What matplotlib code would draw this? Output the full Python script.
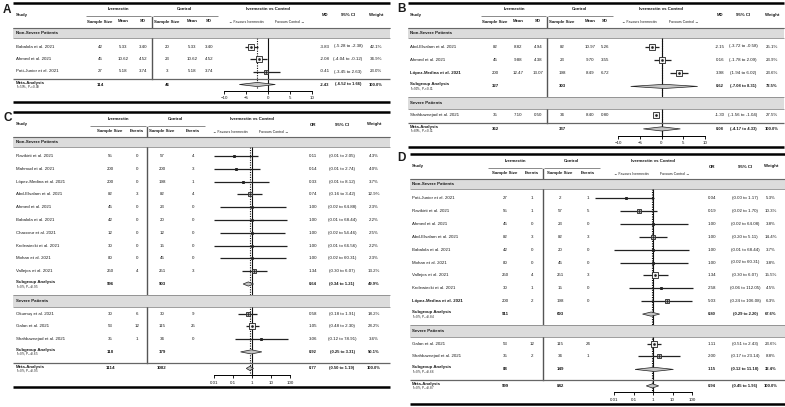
import matplotlib.pyplot as plt
from matplotlib.patches import Rectangle, Polygon

plt.rcParams['font.family'] = ['Liberation Sans', 'DejaVu Sans']
plt.rcParams['mathtext.fontset'] = 'custom'
plt.rcParams['mathtext.rm'] = 'Liberation Sans'
plt.rcParams['mathtext.it'] = 'Liberation Sans:italic'

NS = "Non-Severe Patients"
SV = "Severe Patients"

# ---------------- Panel A: mean difference ----------------
a_study = ["Babalola et al. 2021", "Ahmed et al. 2021", "Pott-Junior et al. 2021"]
a_group = [NS, NS, NS]
a_iv_n = [42, 45, 27]
a_iv_mean = [5.33, 10.62, 5.18]
a_iv_sd = [3.40, 4.52, 3.74]
a_ct_n = [20, 23, 3]
a_ct_mean = [5.33, 10.62, 5.18]
a_ct_sd = [3.40, 4.52, 3.74]
a_est = [-3.83, -2.08, -0.41]
a_lo = [-5.28, -4.04, -3.45]
a_hi = [-2.38, -0.12, 2.63]
a_w = [42.1, 34.9, 23.0]
a_meta = [-2.43, -6.52, 1.66, 100.0, 114, 46]
a_meta_het = "I²=59%, P$_H$=0.09"

# ---------------- Panel B: mean difference ----------------
b_study = ["Abd-Elsalam et al. 2021", "Ahmed et al. 2021", "López-Medina et al. 2021",
           "Shahbaznejad et al. 2021"]
b_group = [NS, NS, NS, SV]
b_iv_n = [82, 45, 200, 35]
b_iv_mean = [8.82, 9.88, 12.47, 7.10]
b_iv_sd = [4.94, 4.38, 13.07, 0.50]
b_ct_n = [82, 23, 198, 34]
b_ct_mean = [10.97, 9.70, 8.49, 8.40]
b_ct_sd = [5.26, 3.55, 6.72, 0.80]
b_est = [-2.15, 0.16, 3.98, -1.30]
b_lo = [-3.72, -1.78, 1.94, -1.56]
b_hi = [-0.58, 2.09, 6.02, -1.04]
b_w = [25.1, 23.9, 23.6, 27.5]
b_sub = {NS: [0.62, -7.08, 8.31, 72.5, 327, 303, "I²=91%, P$_H$<0.01"]}
b_meta = [0.08, -4.17, 4.33, 100.0, 362, 337]
b_meta_het = "I²=89%, P$_H$<0.01"

# ---------------- Panel C: odds ratio ----------------
c_study = ["Ravikirti et al. 2021", "Mahmud et al. 2021", "López-Medina et al. 2021",
           "Abd-Elsalam et al. 2021", "Ahmed et al. 2021", "Babalola et al. 2021",
           "Chaccour et al. 2021", "Krolewiecki et al. 2021", "Mohan et al. 2021",
           "Vallejos et al. 2021", "Okumuş et al. 2021", "Galan et al. 2021",
           "Shahbaznejad et al. 2021"]
c_group = [NS] * 10 + [SV] * 3
c_iv_n = [55, 200, 200, 82, 45, 42, 12, 30, 80, 250, 30, 53, 35]
c_iv_ev = [0, 0, 0, 3, 0, 0, 0, 0, 0, 4, 6, 12, 1]
c_ct_n = [57, 200, 198, 82, 23, 20, 12, 15, 45, 251, 30, 115, 34]
c_ct_ev = [4, 3, 1, 4, 0, 0, 0, 0, 0, 3, 9, 25, 0]
c_est = [0.11, 0.14, 0.33, 0.74, 1.00, 1.00, 1.00, 1.00, 1.00, 1.34, 0.58, 1.05, 3.06]
c_lo = [0.01, 0.01, 0.01, 0.16, 0.02, 0.01, 0.02, 0.01, 0.02, 0.30, 0.18, 0.48, 0.12]
c_hi = [2.05, 2.74, 8.12, 3.42, 64.88, 68.44, 54.46, 66.56, 60.31, 6.07, 1.91, 2.30, 78.91]
c_w = [4.3, 4.0, 3.7, 12.9, 2.3, 2.2, 2.5, 2.2, 2.3, 13.2, 18.2, 28.2, 3.6]
c_sub = {NS: [0.64, 0.34, 1.21, 49.9, 996, 903, "I²=0%, P$_H$=0.95"],
         SV: [0.92, 0.25, 3.31, 50.1, 118, 179, "I²=0%, P$_H$=0.65"]}
c_meta = [0.77, 0.50, 1.19, 100.0, 1114, 1082]
c_meta_het = "I²=0%, P$_H$=0.95"

# ---------------- Panel D: odds ratio ----------------
d_study = ["Pott-Junior et al. 2021", "Ravikirti et al. 2021", "Ahmed et al. 2021",
           "Abd-Elsalam et al. 2021", "Babalola et al. 2021", "Mohan et al. 2021",
           "Vallejos et al. 2021", "Krolewiecki et al. 2021", "López-Medina et al. 2021",
           "Galan et al. 2021", "Shahbaznejad et al. 2021"]
d_group = [NS] * 9 + [SV] * 2
d_iv_n = [27, 55, 45, 82, 42, 80, 250, 30, 200, 53, 35]
d_iv_ev = [1, 1, 0, 3, 0, 0, 4, 1, 2, 12, 2]
d_ct_n = [2, 57, 23, 82, 20, 45, 251, 15, 198, 115, 34]
d_ct_ev = [1, 5, 0, 3, 0, 0, 3, 0, 0, 24, 1]
d_est = [0.04, 0.19, 1.00, 1.00, 1.00, 1.00, 1.34, 2.58, 5.03, 1.11, 2.00]
d_lo = [0.001, 0.02, 0.02, 0.20, 0.01, 0.02, 0.30, 0.06, 0.24, 0.51, 0.17]
d_hi = [1.17, 1.70, 64.08, 5.11, 68.44, 60.31, 6.07, 112.05, 106.08, 2.43, 23.14]
d_w = [5.3, 10.3, 3.8, 14.4, 3.7, 3.8, 15.5, 4.5, 6.3, 23.6, 8.8]
d_sub = {NS: [0.80, 0.29, 2.20, 67.6, 911, 693, "I²=0%, P$_H$=0.84"],
         SV: [1.15, 0.12, 11.18, 32.4, 88, 149, "I²=0%, P$_H$=0.66"]}
d_meta = [0.94, 0.45, 1.96, 100.0, 999, 842]
d_meta_het = "I²=0%, P$_H$=0.87"

W, H = 785, 407
fig = plt.figure(figsize=(W / 100, H / 100), dpi=100)
bg = fig.add_axes([0, 0, 1, 1])
bg.set_xlim(0, W)
bg.set_ylim(H, 0)
bg.axis('off')
bg.set_zorder(5)
bg.patch.set_visible(False)

FS = 3.2      # body text
FSB = 3.2     # headers
FSBS = 2.95   # bold summary statistics
FSS = 2.2     # heterogeneity line
TXT = '#1a1a1a'
LN = '#222222'


def t(x, y, s, ha='center', fs=FS, bold=False, **kw):
    bg.text(x, y, s, ha=ha, va='center', fontsize=fs, color=TXT, zorder=8,
            fontweight='bold' if bold else 'normal', **kw)


def hline(x0, x1, y, lw=0.7, c='#555555', z=2):
    bg.plot([x0, x1], [y, y], color=c, lw=lw, solid_capstyle='butt', zorder=z)


def draw_panel(letter, L, study, group, cells, est, lo, hi, w, subs, meta, meta_het,
               is_or, bold_names=()):
    T = L['T']
    left, right = L['left'], L['right']
    fmt = (lambda v: f"{v:.2f}")
    ivx, ctx = L['iv_x'], L['ct_x']
    sx = L['stat_x']
    sub_cols = (["Sample Size", "Events"] if is_or else ["Sample Size", "Mean", "SD"])

    # header
    t(L['label_xy'][0], L['label_xy'][1], letter, ha='left', fs=8.5, bold=True)
    hline(left, right, T, lw=1.8, c='black')
    t(L['study_x'], T + 12.5, "Study", ha='left', fs=FSB, bold=True)
    t(sum(L['iv_span']) / 2, T + 7, "Ivermectin", fs=FSB, bold=True)
    t(sum(L['ct_span']) / 2, T + 7, "Control", fs=FSB, bold=True)
    hline(L['iv_span'][0], L['iv_span'][1] - 1, T + 13.5, lw=0.6, c='#777777')
    hline(L['ct_span'][0] + 1, L['ct_span'][1], T + 13.5, lw=0.6, c='#777777')
    for x, s in zip(ivx, sub_cols):
        t(x, T + 19, s, fs=FSB, bold=True)
    for x, s in zip(ctx, sub_cols):
        t(x, T + 19, s, fs=FSB, bold=True)
    fmid = sum(L['fx']) / 2
    t(fmid, T + 7, "Ivermectin vs Control", fs=FSB, bold=True)
    t(fmid - 22, T + 19.5, "← Favours Ivermectin", fs=2.5)
    t(fmid + 22, T + 19.5, "Favours Control →", fs=2.5)
    for x, s in zip(sx, ["OR" if is_or else "MD", "95% CI", "Weight"]):
        t(x, T + 12.5, s, fs=FSB, bold=True)
    hline(left, right, T + 25, lw=0.8, c='#444444', z=7)

    # forest axes, sharing pixel y coordinates with the background
    fx0, fx1 = L['fx']
    ax = fig.add_axes([fx0 / W, 0, (fx1 - fx0) / W, 1])
    ax.set_ylim(H, 0)
    if is_or:
        ax.set_xscale('log')
    ax.set_xlim(L['ticks'][0], L['ticks'][-1])
    ax.patch.set_visible(False)
    for s in ['top', 'left', 'right']:
        ax.spines[s].set_visible(False)
    ax.set_yticks([])
    ax.set_xticks(L['ticks'])
    ax.set_xticklabels([f"{v:g}".replace('-', '−') for v in L['ticks']])
    ax.minorticks_off()
    ax.tick_params(axis='x', labelsize=3.2, length=2.5, width=0.7, pad=1.2,
                   colors=TXT)
    ax.spines['bottom'].set_linewidth(0.7)

    def box(x, y, wt):
        side = L['k'] * wt ** 0.5 * 0.72
        ax.plot([x], [y], marker='s', ms=side, mfc='#f2f2f2', mec='#222222',
                mew=0.6, clip_on=False, zorder=4)
        ax.plot([x], [y], marker='o', ms=0.9, color='#222222', clip_on=False, zorder=5)

    def diamond(e, l, h, y):
        ax.add_patch(Polygon([(l, y), (e, y - 2.1), (h, y), (e, y + 2.1)], closed=True,
                             fc='#c4c4c4', ec='#222222', lw=0.5, clip_on=False, zorder=4))

    def ci(l, h, y):
        ax.plot([l, h], [y, y], color=LN, lw=0.9, clip_on=False, zorder=3,
                solid_capstyle='butt')

    def stat_cells(y, e, l, h, wt, bold):
        fs = FSBS if bold else FS
        t(sx[0], y, fmt(e), bold=bold, fs=fs)
        t(sx[1], y, f"({fmt(l)} to {fmt(h)})", bold=bold, fs=fs)
        t(sx[2], y, f"{wt:.1f}%", bold=bold, fs=fs)

    def summary_row(y, label, vals, het):
        e, l, h, wt, n_iv, n_ct = vals[:6]
        t(L['study_x'], y - 1.9, label, ha='left', bold=True)
        t(L['study_x'], y + 2.9, het, ha='left', fs=FSS)
        t(ivx[0], y, str(n_iv), bold=True)
        t(ctx[0], y, str(n_ct), bold=True)
        diamond(e, l, h, y)
        stat_cells(y, e, l, h, wt, True)

    hr = L['hr']
    y = T + 44
    prev = None
    cur = None
    band_first = True
    first_band_bottom = T + 35

    def band(yc, h, name):
        bg.add_patch(Rectangle((left, yc - h / 2), right - left, h, fc='#dcdcdc',
                               ec='none', zorder=6))
        hline(left, right, yc - h / 2, lw=0.5, c='#777777', z=7)
        hline(left, right, yc + h / 2, lw=0.5, c='#777777', z=7)
        t(L['study_x'], yc, name, ha='left', bold=True)

    for i, name in enumerate(study):
        if group[i] != cur:
            if cur in subs:
                sv = subs[cur]
                summary_row(y, "Subgroup Analysis", sv, sv[6])
                prev = y
                y += hr
            cur = group[i]
            if band_first:
                band(T + 30, 10, cur)
                band_first = False
            else:
                yc = prev + L['bgap']
                band(yc, 12, cur)
                y = yc + L['agap']
        bold = name in bold_names
        t(L['study_x'], y, name, ha='left', bold=bold)
        for x, s in zip(ivx + ctx, cells[i]):
            t(x, y, s)
        ci(lo[i], hi[i], y)
        box(est[i], y, w[i])
        stat_cells(y, est[i], lo[i], hi[i], w[i], False)
        prev = y
        y += hr
    if cur in subs:
        sv = subs[cur]
        summary_row(y, "Subgroup Analysis", sv, sv[6])
        prev = y

    sep = prev + L['sgap']
    hline(left, right, sep, lw=0.9, c='#666666')
    my = sep + 5.5
    summary_row(my, "Meta-Analysis", meta, meta_het)
    axis_y = my + L['agap2']
    ax.spines['bottom'].set_position(('data', axis_y))
    hline(left, right, axis_y + 11.5, lw=1.8, c='black')

    # vertical separator between arms
    bg.plot([L['sep_x'], L['sep_x']], [T + 14.5, sep], color='#555555', lw=1.0, zorder=1)
    # reference line and pooled estimate line
    ref = 1 if is_or else 0
    ax.plot([ref, ref], [first_band_bottom, axis_y], color='#111111', lw=0.8,
            clip_on=False, zorder=2)
    ax.plot([meta[0], meta[0]], [first_band_bottom, axis_y - 1.5], color='#111111',
            lw=0.8, ls=(0, (1, 1.2)), clip_on=False, zorder=2)


def md_cells(n1, m1, s1, n2, m2, s2):
    return [[str(a), f"{b:.2f}", f"{c:.2f}", str(d), f"{e:.2f}", f"{f:.2f}"]
            for a, b, c, d, e, f in zip(n1, m1, s1, n2, m2, s2)]


def or_cells(n1, e1, n2, e2):
    return [[str(a), str(b), str(c), str(d)] for a, b, c, d in zip(n1, e1, n2, e2)]


LA = dict(T=2.5, left=13, right=390, study_x=16, iv_x=[100, 123, 143], sep_x=152,
          ct_x=[167, 192, 209], iv_span=(86, 152), ct_span=(152, 218), fx=(224, 312),
          ticks=[-10, -5, 0, 5, 10], stat_x=[325, 348, 376], hr=12.5, k=0.88,
          bgap=17, agap=12, sgap=7.5, agap2=6, label_xy=(3, 10))
LB = dict(T=2.5, left=408, right=784, study_x=410, iv_x=[495, 518, 538], sep_x=547,
          ct_x=[562, 590, 605], iv_span=(481, 547), ct_span=(547, 613), fx=(618, 705),
          ticks=[-10, -5, 0, 5, 10], stat_x=[720, 743, 772], hr=13.3, k=1.1,
          bgap=17, agap=11.5, sgap=8.5, agap2=7, label_xy=(397, 9))
LC = dict(T=112, left=13, right=390, study_x=16, iv_x=[110, 137], sep_x=147,
          ct_x=[162, 193], iv_span=(90, 147), ct_span=(147, 205), fx=(214, 290),
          ticks=[0.01, 0.1, 1, 10, 100], stat_x=[313, 342, 374], hr=12.8, k=1.15,
          bgap=17, agap=12.5, sgap=11, agap2=7, label_xy=(3, 118))
LD = dict(T=154, left=410, right=785, study_x=412, iv_x=[505, 532], sep_x=543,
          ct_x=[560, 588], iv_span=(488, 543), ct_span=(543, 600), fx=(614, 692),
          ticks=[0.01, 0.1, 1, 10, 100], stat_x=[712, 745, 771], hr=12.9, k=1.3,
          bgap=17, agap=12.5, sgap=11, agap2=6.5, label_xy=(397, 158))

draw_panel("A", LA, a_study, a_group,
           md_cells(a_iv_n, a_iv_mean, a_iv_sd, a_ct_n, a_ct_mean, a_ct_sd),
           a_est, a_lo, a_hi, a_w, {}, a_meta, a_meta_het, False)
draw_panel("B", LB, b_study, b_group,
           md_cells(b_iv_n, b_iv_mean, b_iv_sd, b_ct_n, b_ct_mean, b_ct_sd),
           b_est, b_lo, b_hi, b_w, b_sub, b_meta, b_meta_het, False,
           bold_names=("López-Medina et al. 2021",))
draw_panel("C", LC, c_study, c_group, or_cells(c_iv_n, c_iv_ev, c_ct_n, c_ct_ev),
           c_est, c_lo, c_hi, c_w, c_sub, c_meta, c_meta_het, True)
draw_panel("D", LD, d_study, d_group, or_cells(d_iv_n, d_iv_ev, d_ct_n, d_ct_ev),
           d_est, d_lo, d_hi, d_w, d_sub, d_meta, d_meta_het, True,
           bold_names=("López-Medina et al. 2021",))

fig.savefig("out.png", dpi=100)
